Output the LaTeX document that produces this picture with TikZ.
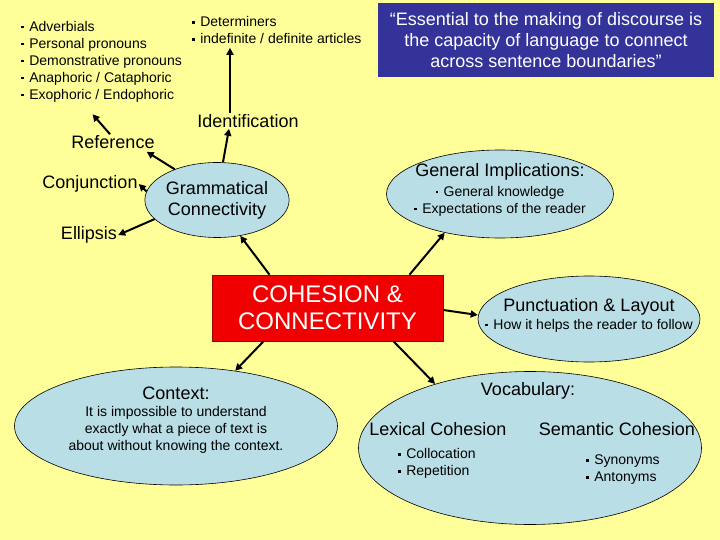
\documentclass[tikz,border=0pt]{standalone}
\usepackage{fontspec}
\setmainfont{Liberation Sans}
\usetikzlibrary{shapes.geometric,arrows.meta,calc}
\definecolor{bg}{RGB}{255,255,153}
\definecolor{lblue}{RGB}{185,222,229}
\definecolor{navy}{RGB}{51,51,153}
\definecolor{cred}{RGB}{240,0,0}
\newcommand\bul{\raisebox{0.2em}{\rule{0.18em}{0.18em}}\hspace{0.4em}}
\begin{document}
\begin{tikzpicture}[x=1pt,y=-1pt,
  big/.style={font=\fontsize{18}{21}\selectfont, inner sep=1pt},
  small/.style={font=\fontsize{14}{17}\selectfont, inner sep=1pt},
  oval/.style={ellipse, draw=black, line width=0.6pt, fill=lblue, inner sep=0pt},
  arr/.style={-{Triangle[length=7pt,width=7pt]}, line width=2pt}]
\fill[bg] (0,0) rectangle (720,540);
\useasboundingbox (0,0) rectangle (720,540);

% quote box
\node[fill=navy, minimum width=336pt, minimum height=74pt, text=white,
      font=\fontsize{18}{21}\selectfont, align=center] (quote) at (546,40)
  {“Essential to the making of discourse is\\the capacity of language to connect\\across sentence boundaries”};

% top lists
\node[small, align=left, anchor=west] (refl) at (20,61.5)
  {\bul Adverbials\\\bul Personal pronouns\\\bul Demonstrative pronouns\\\bul Anaphoric / Cataphoric\\\bul Exophoric / Endophoric};
\node[small, align=left, anchor=west] (det) at (191,30)
  {\bul Determiners\\\bul indefinite / definite articles};

% labels
\node[big] (id) at (248,121) {Identification};
\node[big] (ref) at (113,142) {Reference};
\node[big] (conj) at (90,184) {Conjunction};
\node[big] (ellps) at (89,235) {Ellipsis};

% grammatical connectivity
\node[oval, minimum width=133pt, minimum height=75pt, font=\fontsize{18}{21}\selectfont, align=center]
  (gc) at (217,200) {Grammatical\\Connectivity};

% general implications
\node[oval, minimum width=227pt, minimum height=88pt] (gen) at (500,194) {};
\node[big] (genT) at (500,172) {General Implications:};
\node[small, align=center] (genB) at (500,201) {\bul General knowledge\\\bul Expectations of the reader};

% cohesion
\node[draw=red!60!black, line width=0.6pt, fill=cred, minimum width=231pt, minimum height=66pt,
      text=white, font=\fontsize{24}{27}\selectfont, align=center]
  (coh) at (327.5,308) {COHESION \&\\CONNECTIVITY};

% punctuation
\node[oval, minimum width=222pt, minimum height=86pt] (punc) at (589,319) {};
\node[big] (puncT) at (589,307) {Punctuation \& Layout};
\node[small] (puncB) at (589,325.5) {\bul How it helps the reader to follow};

% vocabulary
\node[oval, minimum width=343pt, minimum height=153pt] (voc) at (530,448) {};
\node[big] (vocT) at (528,391) {Vocabulary:};
\node[big] (lex) at (438,429) {Lexical Cohesion};
\node[big] (sem) at (617,429) {Semantic Cohesion};
\node[small, align=left, anchor=west] (lexB) at (397,463.5) {\bul Collocation\\\bul Repetition};
\node[small, align=left, anchor=west] (semB) at (585,469.5) {\bul Synonyms\\\bul Antonyms};

% context
\node[oval, minimum width=323pt, minimum height=118pt] (ctx) at (176,426) {};
\node[big] (ctxT) at (176,393) {Context:};
\node[small, align=center] (ctxB) at (176,430)
  {It is impossible to understand\\exactly what a piece of text is\\about without knowing the context.};

% arrows
\coordinate (idt) at ([xshift=-18pt]id.north);
\draw[arr] (gc.81) -- ([xshift=-19pt]id.south);
\draw[arr] (idt) -- ($(idt |- det.south)+(0,3)$);
\draw[arr] ([xshift=-3pt]ref.north) -- ($(refl.south)+(-9,11)$);
\draw[arr] (gc.144) -- ([xshift=-9pt,yshift=-2pt]ref.south east);
\draw[arr] (gc.173) -- (conj.east);
\draw[arr] (gc.197) -- (ellps.east);

\draw[arr] ([xshift=-58pt]coh.north) -- (gc.303);
\draw[arr] ([xshift=-64pt]coh.south) -- (ctx.43);
\draw[arr] ([xshift=82pt]coh.north) -- (gen.215);
\draw[arr] ([yshift=-2pt]coh.east) -- ([yshift=4pt]punc.west);
\draw[arr] ([xshift=66pt]coh.south) -- (voc.146);
\end{tikzpicture}
\end{document}
